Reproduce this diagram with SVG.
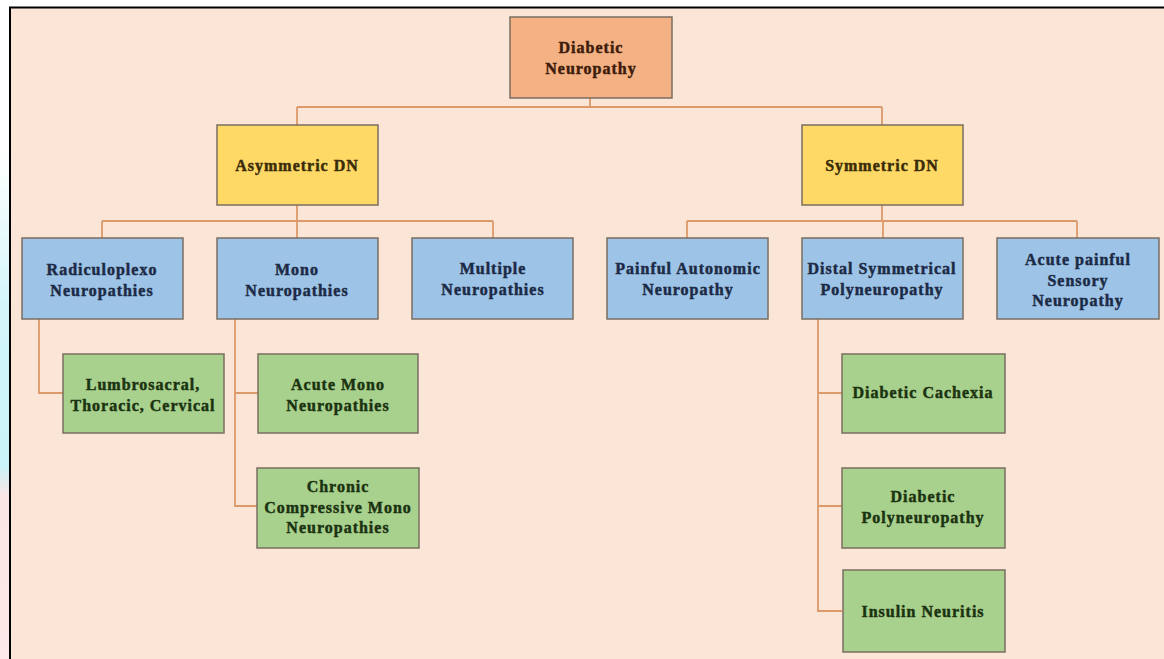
<svg xmlns="http://www.w3.org/2000/svg" width="1164" height="659" viewBox="0 0 1164 659">
<defs>
<linearGradient id="leftStrip" x1="0" y1="0" x2="0" y2="1">
<stop offset="0" stop-color="#ffffff"/>
<stop offset="0.3" stop-color="#d4f6fa"/>
<stop offset="0.62" stop-color="#c9f3f8"/>
<stop offset="0.68" stop-color="#fbe6e6"/>
<stop offset="1" stop-color="#fde9e9"/>
</linearGradient>
</defs>
<style>
.box{stroke:#7a6e62;stroke-width:1.5}
.root{fill:#F4B183}
.l1{fill:#FFD966}
.l2{fill:#9DC3E6}
.l3{fill:#A9D18E}
text{font-family:"Liberation Serif","Times New Roman",serif;font-weight:bold;font-size:16px;text-anchor:middle;letter-spacing:1px;stroke-width:0.45px}
.t-root{fill:#3d1c0c;stroke:#3d1c0c}
.t-l1{fill:#3a2c08;stroke:#3a2c08}
.t-l2{fill:#1c2a45;stroke:#1c2a45}
.t-l3{fill:#1b3310;stroke:#1b3310}
.conn{fill:none;stroke:#dc9a6a;stroke-width:1.8}
</style>
<rect x="0" y="0" width="1164" height="659" fill="#ffffff"/>
<rect x="0" y="150" width="9" height="509" fill="url(#leftStrip)"/>
<rect x="10" y="8" width="1154" height="651" fill="#FBE5D6"/>
<path d="M10 659 V7.5 H1164" fill="none" stroke="#000" stroke-width="2"/>

<g id="connectors" class="conn">
<path d="M590 98 V107 M297 107 H882 M297 107 V125 M882 107 V125"/>
<path d="M297 205 V221 M102 221 H493 M102 221 V238 M297 221 V238 M493 221 V238"/>
<path d="M882 205 V221 M687 221 H1077 M687 221 V238 M883 221 V238 M1077 221 V238"/>
<path d="M39 319 V393 H63"/>
<path d="M235 319 V506 H258 M235 393 H258"/>
<path d="M818 319 V611 H842 M818 393 H842 M818 506 H842"/>
</g>

<g id="node-diabetic-neuropathy">
<rect class="box root" x="510" y="17" width="162" height="81"/>
<text class="t-root" x="591" y="53">Diabetic</text>
<text class="t-root" x="591" y="74">Neuropathy</text>
</g>

<g id="node-asymmetric-dn">
<rect class="box l1" x="217" y="125" width="161" height="80"/>
<text class="t-l1" x="297" y="171">Asymmetric  DN</text>
</g>

<g id="node-symmetric-dn">
<rect class="box l1" x="802" y="125" width="161" height="80"/>
<text class="t-l1" x="882" y="171">Symmetric  DN</text>
</g>

<g id="node-radiculoplexo">
<rect class="box l2" x="22" y="238" width="161" height="81"/>
<text class="t-l2" x="102" y="275">Radiculoplexo</text>
<text class="t-l2" x="102" y="296">Neuropathies</text>
</g>

<g id="node-mono">
<rect class="box l2" x="217" y="238" width="161" height="81"/>
<text class="t-l2" x="297" y="275">Mono</text>
<text class="t-l2" x="297" y="296">Neuropathies</text>
</g>

<g id="node-multiple">
<rect class="box l2" x="412" y="238" width="161" height="81"/>
<text class="t-l2" x="493" y="274">Multiple</text>
<text class="t-l2" x="493" y="295">Neuropathies</text>
</g>

<g id="node-painful-autonomic">
<rect class="box l2" x="607" y="238" width="161" height="81"/>
<text class="t-l2" x="688" y="274">Painful Autonomic</text>
<text class="t-l2" x="688" y="295">Neuropathy</text>
</g>

<g id="node-distal-symmetrical">
<rect class="box l2" x="802" y="238" width="161" height="81"/>
<text class="t-l2" x="882" y="274">Distal Symmetrical</text>
<text class="t-l2" x="882" y="295">Polyneuropathy</text>
</g>

<g id="node-acute-painful">
<rect class="box l2" x="997" y="238" width="162" height="81"/>
<text class="t-l2" x="1078" y="265">Acute painful</text>
<text class="t-l2" x="1078" y="286">Sensory</text>
<text class="t-l2" x="1078" y="306">Neuropathy</text>
</g>

<g id="node-lumbrosacral">
<rect class="box l3" x="63" y="354" width="161" height="79"/>
<text class="t-l3" x="143" y="390">Lumbrosacral,</text>
<text class="t-l3" x="143" y="411">Thoracic, Cervical</text>
</g>

<g id="node-acute-mono">
<rect class="box l3" x="258" y="354" width="160" height="79"/>
<text class="t-l3" x="338" y="390">Acute Mono</text>
<text class="t-l3" x="338" y="411">Neuropathies</text>
</g>

<g id="node-chronic-compressive">
<rect class="box l3" x="257" y="468" width="162" height="80"/>
<text class="t-l3" x="338" y="492">Chronic</text>
<text class="t-l3" x="338" y="513">Compressive Mono</text>
<text class="t-l3" x="338" y="533">Neuropathies</text>
</g>

<g id="node-diabetic-cachexia">
<rect class="box l3" x="842" y="354" width="163" height="79"/>
<text class="t-l3" x="923" y="398">Diabetic Cachexia</text>
</g>

<g id="node-diabetic-polyneuropathy">
<rect class="box l3" x="842" y="468" width="163" height="80"/>
<text class="t-l3" x="923" y="502">Diabetic</text>
<text class="t-l3" x="923" y="523">Polyneuropathy</text>
</g>

<g id="node-insulin-neuritis">
<rect class="box l3" x="843" y="570" width="162" height="82"/>
<text class="t-l3" x="923" y="617">Insulin  Neuritis</text>
</g>
</svg>
